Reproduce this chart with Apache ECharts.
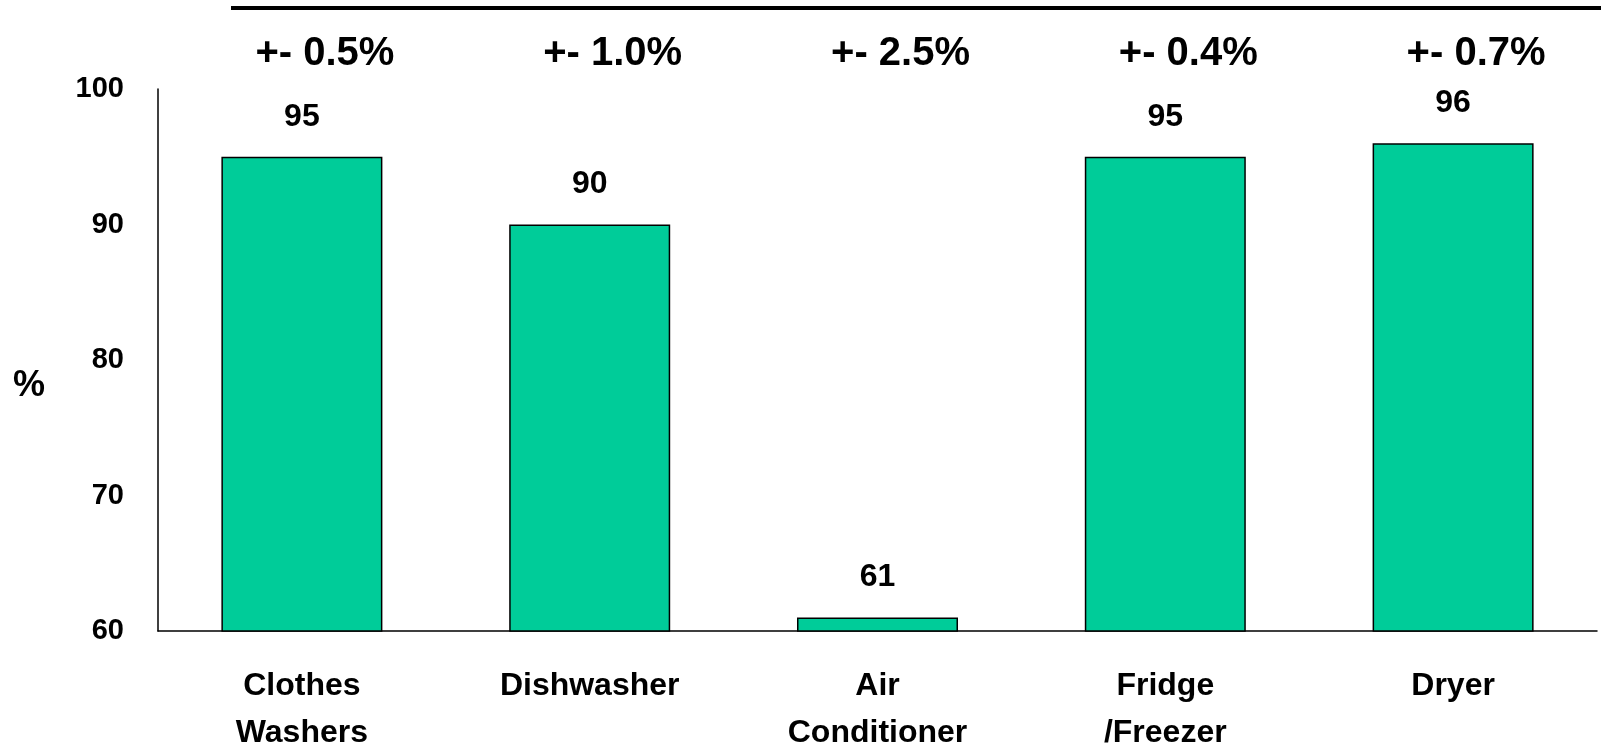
<!DOCTYPE html>
<html>
<head>
<meta charset="utf-8">
<script src="https://cdn.jsdelivr.net/npm/echarts@6/dist/echarts.min.js"></script>
<style>
html,body{margin:0;padding:0;background:#fff;}
#c{width:1601px;height:746px;}
</style>
</head>
<body>
<div id="c"></div>
<script>
const categories = ["Clothes\nWashers", "Dishwasher", "Air\nConditioner", "Fridge\n/Freezer", "Dryer"];
const values = [95, 90, 61, 95, 96];
const margins = ["+- 0.5%", "+- 1.0%", "+- 2.5%", "+- 0.4%", "+- 0.7%"];
const yTicks = { min: 60, max: 100, interval: 10 };

const FONT = '"Liberation Sans", Arial, sans-serif';
const chart = echarts.init(document.getElementById('c'), null, { renderer: 'canvas' });
chart.setOption({
  backgroundColor: '#fff',
  animation: false,
  grid: { left: 158, right: 4, top: 89, bottom: 115, outerBoundsMode: 'none', containLabel: false },
  graphic: [{
    type: 'rect', left: 231, top: 6, shape: { width: 1370, height: 4 }, style: { fill: '#000' }
  }, {
    type: 'text', left: 13, top: 368,
    style: { text: '%', fill: '#000', font: 'bold 36px "Liberation Sans", Arial, sans-serif' }
  }],
  xAxis: [{
    type: 'category',
    data: categories,
    axisLine: { lineStyle: { color: '#000', width: 1.5 } },
    axisTick: { show: false },
    axisLabel: {
      margin: 32, color: '#000', fontFamily: FONT, fontWeight: 'bold', fontSize: 32, lineHeight: 47, interval: 0
    }
  }, {
    type: 'category',
    position: 'top',
    data: margins,
    axisLine: { show: false },
    axisTick: { show: false },
    axisLabel: {
      margin: 15, color: '#000', fontFamily: FONT, fontWeight: 'bold', fontSize: 40, lineHeight: 40, interval: 0,
      padding: [0, 0, 0, 46]
    }
  }],
  yAxis: {
    type: 'value',
    min: yTicks.min, max: yTicks.max, interval: yTicks.interval,
    axisLine: { show: true, lineStyle: { color: '#000', width: 1.5 } },
    axisTick: { show: false },
    splitLine: { show: false },
    axisLabel: { margin: 34, color: '#000', fontFamily: FONT, fontWeight: 'bold', fontSize: 29 }
  },
  series: [{
    type: 'bar',
    data: values,
    barWidth: 161,
    itemStyle: { color: '#00CC99', borderColor: '#000', borderWidth: 1.5 },
    label: {
      show: true, position: 'top', distance: 24, color: '#000',
      fontFamily: FONT, fontWeight: 'bold', fontSize: 32
    }
  }]
});
</script>
</body>
</html>
